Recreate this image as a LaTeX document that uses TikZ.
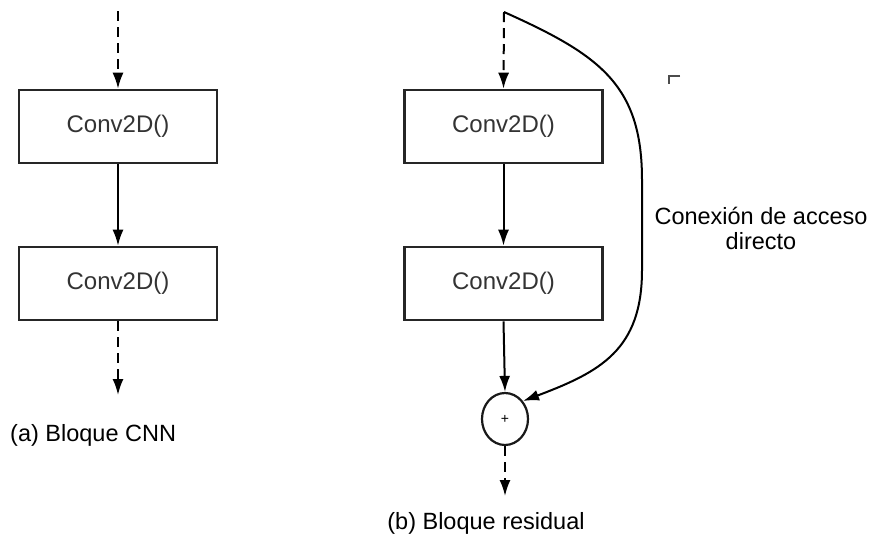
\documentclass[tikz,border=0pt]{standalone}
\usepackage{fontspec}
\setmainfont{Liberation Sans}
\usetikzlibrary{arrows.meta,shapes.geometric}
\begin{document}
\begin{tikzpicture}[x=1pt,y=-1pt,
  convbox/.style={draw=black!85, line width=2.6pt, minimum width=198pt, minimum height=73pt,
    inner sep=0pt, font=\fontsize{24}{26}\selectfont, text=black!80},
  sumnode/.style={draw=black!90, line width=2.2pt, ellipse, minimum width=46pt, minimum height=52pt,
    inner sep=0pt, font=\fontsize{14}{15}\selectfont},
  flow/.style={line width=2pt, -{Latex[length=16pt,width=11pt]}},
  dashflow/.style={flow, dash pattern=on 10pt off 6pt},
  caption/.style={font=\fontsize{23.5}{25}\selectfont, inner sep=0pt}
]
\useasboundingbox (0,0) rectangle (873,542);

% (a) plain CNN block
\coordinate (ain) at (118,11);
\node[convbox] (a1) at (118,126.5) {Conv2D()};
\node[convbox] (a2) at (118,283.5) {Conv2D()};
\coordinate (aout) at (118,395);
\draw[dashflow] (ain) -- (a1.north);
\draw[flow] (a1.south) -- (a2.north);
\draw[dashflow] (a2.south) -- (aout);
\node[caption, anchor=west] (acap) at (10,435) {(a) Bloque CNN};

% (b) residual block
\coordinate (bin) at (504,12);
\node[convbox] (b1) at (503.5,126.5) {Conv2D()};
\node[convbox] (b2) at (503.5,283.5) {Conv2D()};
\node[sumnode] (sum) at (505,419) {+};
\coordinate (bout) at (505,496);
\draw[dashflow] (bin) -- (b1.north);
\draw[flow] (b1.south) -- (b2.north);
\draw[flow] (b2.south) -- (sum.north);
\draw[dashflow] (sum.south) -- (bout);
% shortcut connection around the two convolutions
\draw[flow] (bin) .. controls (600,55) and (642,85) .. (642,180)
  -- (642,270) .. controls (642,350) and (600,372) .. (sum.45);
\node[caption, align=center] (skip) at (761,228) {Conexión de acceso\\directo};
\draw[black!70, line width=1.8pt] (680,76) -- (669,76) -- (669,84);
\node[caption] (bcap) at (486,523) {(b) Bloque residual};
\end{tikzpicture}
\end{document}
